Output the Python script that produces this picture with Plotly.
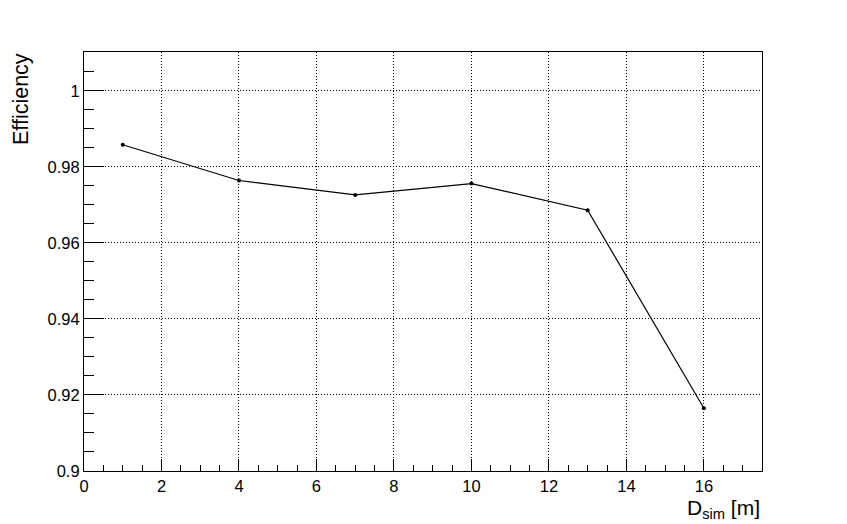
import plotly.graph_objects as go

distance_m = [1, 4, 7, 10, 13, 16]
efficiency = [0.9858, 0.9764, 0.9726, 0.9756, 0.9686, 0.9165]

x_ticks = [0, 2, 4, 6, 8, 10, 12, 14, 16]
y_ticks = [0.9, 0.92, 0.94, 0.96, 0.98, 1.0]
y_tick_labels = ["0.9", "0.92", "0.94", "0.96", "0.98", "1"]

FONT = "Liberation Sans, Arial, Helvetica, sans-serif"

fig = go.Figure()
fig.add_trace(go.Scatter(
    x=distance_m, y=efficiency, mode="lines+markers",
    line=dict(color="black", width=1.2),
    marker=dict(color="black", size=4),
    showlegend=False, hoverinfo="skip",
))

axis_common = dict(
    showline=True, linecolor="black", linewidth=1.2, mirror=True,
    ticks="inside", tickcolor="black", tickwidth=1,
    showgrid=True, gridcolor="black", gridwidth=1, griddash="1px,2px",
    zeroline=False,
    tickfont=dict(family=FONT, size=16.5, color="black"),
)

fig.update_layout(
    width=839, height=516,
    paper_bgcolor="white", plot_bgcolor="white",
    margin=dict(l=76, r=85, t=44, b=53),
    xaxis=dict(range=[0, 17.5], tickvals=x_ticks, ticklen=12,
               minor=dict(dtick=0.5, ticks="inside", ticklen=6, tickcolor="black", showgrid=False),
               **axis_common),
    yaxis=dict(range=[0.9, 1.0102], tickvals=y_ticks, ticktext=y_tick_labels, ticklen=20,
               minor=dict(dtick=0.005, ticks="inside", ticklen=10, tickcolor="black", showgrid=False),
               **axis_common),
    annotations=[
        dict(text="Efficiency", xref="paper", yref="paper", x=0, y=1,
             xshift=-63, yshift=1, textangle=-90, showarrow=False,
             xanchor="center", yanchor="top",
             font=dict(family=FONT, size=21.5, color="black")),
        dict(text="D<sub>sim</sub> [m]", xref="paper", yref="paper", x=1, y=0,
             yshift=-53, showarrow=False, xanchor="right", yanchor="bottom",
             font=dict(family=FONT, size=21, color="black")),
    ],
)

fig.write_html("out.html")
